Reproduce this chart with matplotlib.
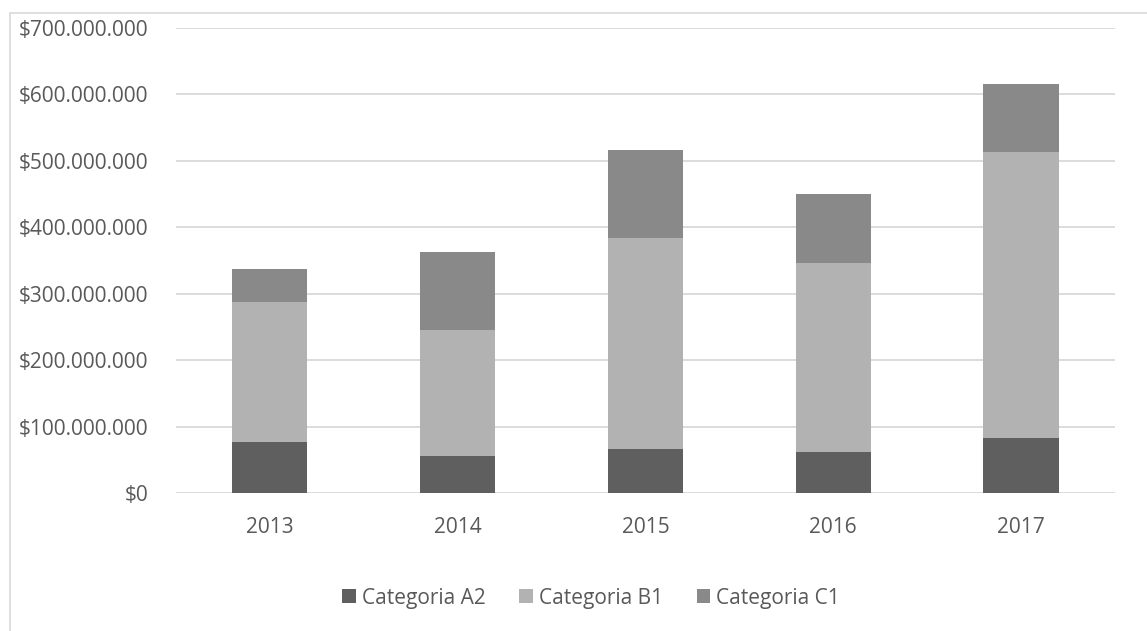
import matplotlib.pyplot as plt
from matplotlib.patches import Rectangle
from matplotlib.ticker import FuncFormatter

# Datos (en pesos)
anios = ["2013", "2014", "2015", "2016", "2017"]
categoria_a2 = [77e6, 56e6, 66e6, 61e6, 83e6]
categoria_b1 = [210e6, 189e6, 318e6, 286e6, 430e6]
categoria_c1 = [50e6, 118e6, 132e6, 103e6, 103e6]

colores = ["#5f5f5f", "#b2b2b2", "#898989"]
nombres = ["Categoria A2", "Categoria B1", "Categoria C1"]

plt.rcParams['font.family'] = ['Open Sans', 'DejaVu Sans']

fig = plt.figure(figsize=(11.47, 6.31), dpi=100)
ax = fig.add_axes([0.1535, 0.2187, 0.8185, 0.7369])

# Borde del area del grafico
fig.patches.append(Rectangle((10 / 1147, -0.1), 1.2, 1 - 13 / 631 + 0.1,
                             transform=fig.transFigure, fill=False,
                             edgecolor="#d9d9d9", linewidth=1.2))

x = range(len(anios))
ancho = 0.4
base = [0] * len(anios)
for serie, color, nombre in zip([categoria_a2, categoria_b1, categoria_c1], colores, nombres):
    ax.bar(x, serie, ancho, bottom=base, color=color, label=nombre, zorder=3)
    base = [b + s for b, s in zip(base, serie)]

ax.set_ylim(0, 700e6)
ax.set_xlim(-0.5, len(anios) - 0.5)
ax.set_yticks([i * 100e6 for i in range(8)])
ax.yaxis.set_major_formatter(FuncFormatter(lambda v, p: "$" + f"{int(v):,}".replace(",", ".")))
ax.set_xticks(list(x))
ax.set_xticklabels(anios)

ax.grid(axis="y", color="#d9d9d9", linewidth=1.3, zorder=0)
for lado in ["top", "right", "left", "bottom"]:
    ax.spines[lado].set_visible(False)
ax.tick_params(axis="both", length=0, colors="#595959", labelsize=15)
ax.tick_params(axis="y", pad=20)
ax.tick_params(axis="x", pad=17)

# Leyenda centrada en el area del grafico
fig.legend(*ax.get_legend_handles_labels(), loc="center", bbox_to_anchor=(0.5155, 0.052),
           ncol=3, frameon=False, fontsize=15, labelcolor="#595959",
           handlelength=0.65, handleheight=0.65, handletextpad=0.3, columnspacing=1.6)

fig.savefig("out.png", dpi=100)
